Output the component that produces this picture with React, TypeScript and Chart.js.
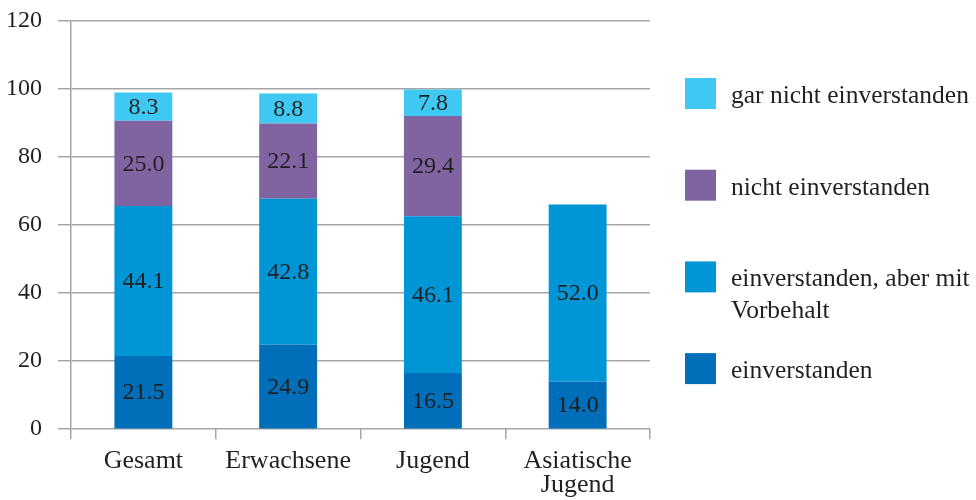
import React, { useEffect, useRef } from 'react';
import { Chart, registerables } from 'chart.js';

Chart.register(...registerables);

const categories: (string | string[])[] = ['Gesamt', 'Erwachsene', 'Jugend', ['Asiatische', 'Jugend']];
const seriesNames: string[][] = [
  ['einverstanden'],
  ['einverstanden, aber mit', 'Vorbehalt'],
  ['nicht einverstanden'],
  ['gar nicht einverstanden'],
];
const einverstanden = [21.5, 24.9, 16.5, 14.0];
const vorbehalt = [44.1, 42.8, 46.1, 52.0];
const nichtEinverstanden = [25.0, 22.1, 29.4, null];
const garNichtEinverstanden = [8.3, 8.8, 7.8, null];
const yMin = 0;
const yMax = 120;
const yStep = 20;

const colors = ['#006EB8', '#0096D6', '#8064A2', '#40C8F4'];
const FONT = '"Liberation Serif", "Times New Roman", serif';
const TEXT = '#231F20';
const GRID = '#A6A6A6';

const valueLabels = {
  id: 'valueLabels',
  afterDatasetsDraw(chart: any) {
    const ctx = chart.ctx;
    ctx.save();
    ctx.font = `24px ${FONT}`;
    ctx.fillStyle = TEXT;
    ctx.textAlign = 'center';
    ctx.textBaseline = 'middle';
    chart.data.datasets.forEach((ds: any, i: number) => {
      const meta = chart.getDatasetMeta(i);
      meta.data.forEach((el: any, j: number) => {
        const v = ds.data[j];
        if (v === null || v === undefined) return;
        const y = (el.y + el.base) / 2 + 1;
        ctx.fillText(v.toFixed(1), el.x, y);
      });
    });
    ctx.restore();
  },
};

const sideLegend = {
  id: 'sideLegend',
  afterDraw(chart: any) {
    const ctx = chart.ctx;
    const area = chart.chartArea;
    const boxX = area.right + 35;
    const textX = boxX + 46;
    const box = 31;
    const top = 78;
    const step = 91.7;
    ctx.save();
    ctx.font = `25.5px ${FONT}`;
    ctx.textAlign = 'left';
    ctx.textBaseline = 'alphabetic';
    const n = chart.data.datasets.length;
    for (let k = 0; k < n; k++) {
      const i = n - 1 - k;
      const ds = chart.data.datasets[i];
      const y = top + k * step;
      ctx.fillStyle = ds.backgroundColor;
      ctx.fillRect(boxX, y, box, box);
      ctx.fillStyle = TEXT;
      const lines: string[] = seriesNames[i];
      lines.forEach((line, li) => {
        ctx.fillText(line, textX, y + box / 2 + 9.5 + li * 32);
      });
    }
    ctx.restore();
  },
};

export default function App() {
  const ref = useRef<HTMLCanvasElement | null>(null);
  useEffect(() => {
    document.body.style.margin = '0';
    const seriesData = [einverstanden, vorbehalt, nichtEinverstanden, garNichtEinverstanden];
    const chart = new Chart(ref.current as HTMLCanvasElement, {
      type: 'bar',
      data: {
        labels: categories as any,
        datasets: seriesData.map((d, i) => ({
          label: seriesNames[i].join(' '),
          data: d as any,
          backgroundColor: colors[i],
          borderWidth: 0,
          categoryPercentage: 1,
          barPercentage: 0.4,
        })),
      },
      options: {
        responsive: false,
        animation: false,
        layout: { padding: { left: -10, right: 326, top: 0, bottom: -7 } },
        plugins: {
          legend: { display: false },
          tooltip: { enabled: false },
        },
        scales: {
          x: {
            stacked: true,
            offset: true,
            grid: {
              drawOnChartArea: false,
              drawTicks: true,
              tickLength: 10,
              color: GRID,
              lineWidth: 1.5,
              offset: true,
            },
            border: { display: false },
            ticks: {
              color: TEXT,
              font: { family: FONT, size: 26, lineHeight: 0.92 },
              padding: 10,
              maxRotation: 0,
            },
          },
          y: {
            stacked: true,
            min: yMin,
            max: yMax,
            grid: {
              color: GRID,
              lineWidth: 1.5,
              drawTicks: true,
              tickLength: 13,
            },
            border: { display: true, color: GRID, width: 1.5 },
            ticks: {
              stepSize: yStep,
              color: TEXT,
              font: { family: FONT, size: 24, lineHeight: 0.4 },
              padding: 16,
            },
          },
        },
      },
      plugins: [valueLabels, sideLegend],
    });
    return () => chart.destroy();
  }, []);
  return <canvas ref={ref} width={976} height={500} style={{ display: 'block' }} />;
}
